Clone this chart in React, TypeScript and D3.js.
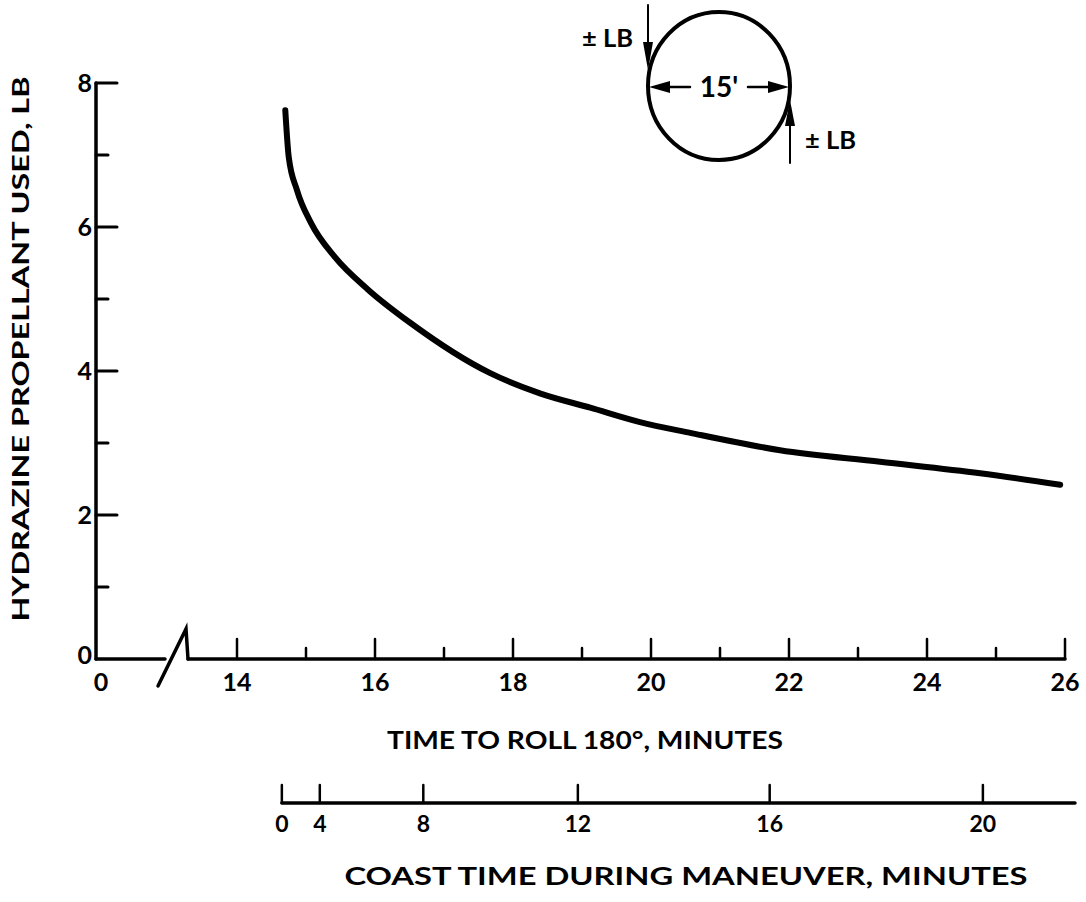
import React, { useEffect } from "react";
import * as d3 from "d3";

// ---- Data ----
const rollTime = [14.7, 14.75, 14.87, 15.07, 15.42, 15.9, 16.51, 17.67, 18.39, 19.12, 19.84, 20.57, 21.87, 23.32, 24.77, 25.93];
const propellantLb = [7.62, 6.97, 6.51, 6.06, 5.58, 5.13, 4.67, 3.97, 3.69, 3.49, 3.29, 3.14, 2.9, 2.74, 2.58, 2.42];

const xMajorTicks = [14, 16, 18, 20, 22, 24, 26];
const xMinorTicks = [15, 17, 19, 21, 23, 25];
const yMajorTicks = [0, 2, 4, 6, 8];
const yMinorTicks = [1, 3, 5, 7];

const coastTicks = [0, 4, 8, 12, 16, 20];
const coastTickRollTime = [14.65, 15.2, 16.7, 18.94, 21.72, 24.81];

const FONT = "Lato, 'Open Sans', sans-serif";

export default function App() {
  useEffect(() => {
    document.body.style.margin = "0";
  }, []);

  const x = d3.scaleLinear().domain([14, 26]).range([237, 1065]);
  const y = d3.scaleLinear().domain([0, 8]).range([659, 83]);
  const x0 = 96; // axis origin (broken scale)
  const y0 = y(0);

  const pts: [number, number][] = rollTime.map((t, i) => [x(t), y(propellantLb[i])]);
  const line = d3.line().curve(d3.curveMonotoneX)(pts) || "";

  const coastY = 803;

  return (
    <svg width={1086} height={902} style={{ display: "block", background: "#fff" }}>
      <g stroke="#000" fill="none" strokeLinecap="round">
        {/* Y axis */}
        <line x1={x0} y1={y(8)} x2={x0} y2={y0} strokeWidth={3.5} />
        {yMajorTicks.filter((v) => v > 0).map((v) => (
          <line key={"ym" + v} x1={x0} y1={y(v)} x2={x0 + 21} y2={y(v)} strokeWidth={3} />
        ))}
        {yMinorTicks.map((v) => (
          <line key={"yn" + v} x1={x0} y1={y(v)} x2={x0 + 12} y2={y(v)} strokeWidth={3} />
        ))}
        {/* X axis with break */}
        <line x1={x0} y1={y0} x2={165} y2={y0} strokeWidth={3.5} />
        <path d={`M158,686 L186,629 L188,${y0}`} strokeWidth={3.5} strokeLinejoin="miter" />
        <line x1={188} y1={y0} x2={x(26)} y2={y0} strokeWidth={3.5} />
        {xMajorTicks.map((v) => (
          <line key={"xm" + v} x1={x(v)} y1={y0} x2={x(v)} y2={y0 - 20} strokeWidth={2.5} />
        ))}
        {xMinorTicks.map((v) => (
          <line key={"xn" + v} x1={x(v)} y1={y0} x2={x(v)} y2={y0 - 11} strokeWidth={2.5} />
        ))}
        {/* Curve */}
        <path d={line} strokeWidth={6} />
        {/* Secondary axis */}
        <line x1={x(coastTickRollTime[0])} y1={coastY} x2={x(26) + 10} y2={coastY} strokeWidth={3.5} />
        {coastTickRollTime.map((t, i) => (
          <line key={"c" + i} x1={x(t)} y1={coastY} x2={x(t)} y2={coastY - 18} strokeWidth={2.5} />
        ))}
        {/* Circle diagram */}
        <ellipse cx={719} cy={86} rx={71} ry={74} strokeWidth={4} />
        <line x1={648} y1={5} x2={648} y2={50} strokeWidth={2} />
        <line x1={790} y1={163} x2={790} y2={118} strokeWidth={2} />
        <line x1={660} y1={87} x2={690} y2={87} strokeWidth={2.5} />
        <line x1={748} y1={87} x2={778} y2={87} strokeWidth={2.5} />
      </g>
      <g fill="#000">
        <path d="M643,42 L653,42 L648,70 Z" />
        <path d="M785,126 L795,126 L790,100 Z" />
        <path d="M649,87 L670,81 L670,93 Z" />
        <path d="M789,87 L768,81 L768,93 Z" />
      </g>
      <g fontFamily={FONT} fontWeight={700} fill="#000">
        {/* Y tick labels */}
        {yMajorTicks.filter((v) => v > 0).map((v) => (
          <text key={"yl" + v} x={x0 - 4} y={y(v) + 9} fontSize={25} textAnchor="end">{v}</text>
        ))}
        <text x={x0 - 4} y={y0 + 5} fontSize={25} textAnchor="end">0</text>
        <text x={x0 + 5} y={y0 + 32} fontSize={25} textAnchor="middle">0</text>
        {/* X tick labels */}
        {xMajorTicks.map((v) => (
          <text key={"xl" + v} x={x(v)} y={y0 + 32} fontSize={25} textAnchor="middle">{v}</text>
        ))}
        {/* Coast tick labels */}
        {coastTicks.map((c, i) => (
          <text key={"cl" + c} x={x(coastTickRollTime[i])} y={coastY + 29} fontSize={23} textAnchor="middle">{c}</text>
        ))}
        {/* Titles */}
        <text x={585} y={749} fontSize={24} textAnchor="middle" textLength={396} lengthAdjust="spacingAndGlyphs">TIME TO ROLL 180°, MINUTES</text>
        <text x={686} y={885} fontSize={24} textAnchor="middle" textLength={683} lengthAdjust="spacingAndGlyphs">COAST TIME DURING MANEUVER, MINUTES</text>
        <text transform="translate(29,349) rotate(-90)" fontSize={23} textAnchor="middle" textLength={545} lengthAdjust="spacingAndGlyphs">HYDRAZINE PROPELLANT USED, LB</text>
        {/* Diagram labels */}
        <text x={582} y={47} fontSize={24} textLength={51} lengthAdjust="spacingAndGlyphs">± LB</text>
        <text x={805} y={149} fontSize={24} textLength={51} lengthAdjust="spacingAndGlyphs">± LB</text>
        <text x={719} y={97} fontSize={28} textAnchor="middle">15'</text>
      </g>
    </svg>
  );
}
